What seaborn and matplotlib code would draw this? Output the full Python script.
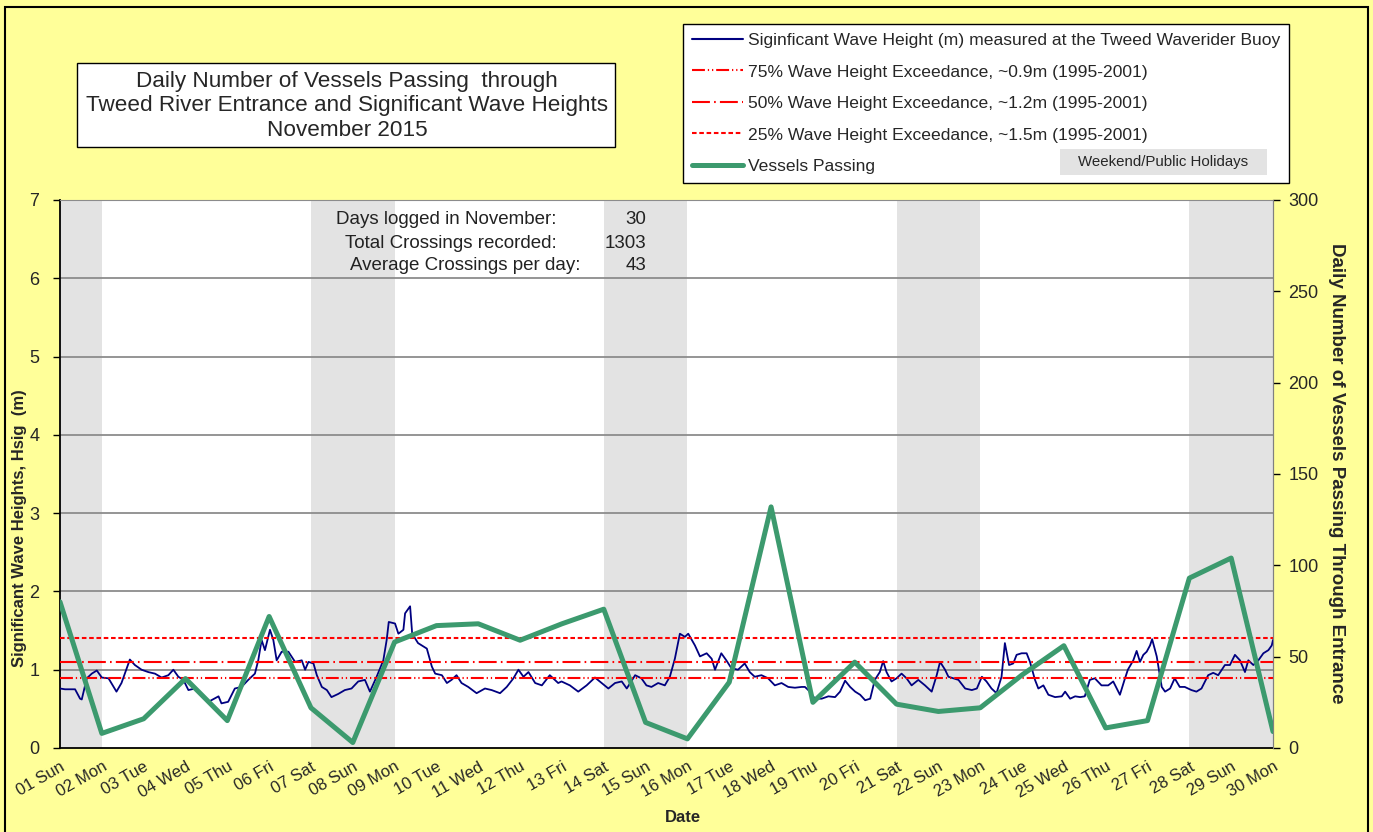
import numpy as np
import pandas as pd
import matplotlib
matplotlib.use("Agg")
import matplotlib.pyplot as plt
from matplotlib.lines import Line2D
from matplotlib.patches import Rectangle
import seaborn as sns

# ---------------- data ----------------
day_labels = ["01 Sun", "02 Mon", "03 Tue", "04 Wed", "05 Thu", "06 Fri", "07 Sat",
              "08 Sun", "09 Mon", "10 Tue", "11 Wed", "12 Thu", "13 Fri", "14 Sat",
              "15 Sun", "16 Mon", "17 Tue", "18 Wed", "19 Thu", "20 Fri", "21 Sat",
              "22 Sun", "23 Mon", "24 Tue", "25 Wed", "26 Thu", "27 Fri", "28 Sat",
              "29 Sun", "30 Mon"]
vessels = [80, 8, 16, 38, 15, 72, 22, 3, 58, 67, 68, 59, 68, 76, 14, 5, 36, 132,
           25, 47, 24, 20, 22, 40, 56, 11, 15, 93, 104, 9]

# wave record: time in days since 01 Nov 00:00, Hsig in m
wave_day = [0.00, 0.12, 0.36, 0.48, 0.52, 0.64, 0.76, 0.88, 1.00, 1.16, 1.35, 1.47,
            1.67, 1.79, 1.95, 2.11, 2.27, 2.43, 2.59, 2.71, 2.83, 2.95, 3.07, 3.23,
            3.39, 3.55, 3.79, 3.86, 4.02, 4.18, 4.34, 4.50, 4.66, 4.74, 4.82, 4.90,
            5.02, 5.10, 5.18, 5.30, 5.46, 5.62, 5.78, 5.86, 5.94, 6.06,
            6.14, 6.26, 6.38, 6.49, 6.65, 6.81, 6.97, 7.13, 7.29, 7.41, 7.57, 7.73,
            7.81, 7.86, 8.01, 8.09, 8.21, 8.25, 8.37, 8.42, 8.56, 8.77, 8.89, 8.97,
            9.13, 9.25, 9.36, 9.48, 9.60, 9.76, 9.96, 10.16, 10.32, 10.52, 10.68,
            10.84, 10.96, 11.08, 11.20, 11.36, 11.52, 11.71, 11.91,
            11.99, 12.19, 12.39, 12.59, 12.79, 12.95, 13.11, 13.27, 13.43, 13.55,
            13.75, 13.90, 14.02, 14.14, 14.30, 14.46, 14.58, 14.70, 14.82, 14.94,
            15.02, 15.18, 15.30, 15.46, 15.58, 15.66, 15.81, 15.93, 16.05, 16.21,
            16.37, 16.49, 16.61, 16.77, 16.93, 17.09, 17.25, 17.41, 17.57, 17.73,
            17.81, 17.89, 18.05, 18.21, 18.37, 18.53, 18.65, 18.77, 18.89, 19.01,
            19.13, 19.25, 19.37, 19.48, 19.60, 19.68, 19.76, 19.88, 20.00, 20.12,
            20.24, 20.36, 20.52, 20.68, 20.84, 20.96, 21.04, 21.16, 21.24, 21.36,
            21.48, 21.64, 21.80, 21.92, 22.04, 22.15, 22.27, 22.39, 22.51, 22.59,
            22.69, 22.79, 22.87, 22.99, 23.11, 23.19, 23.31, 23.39, 23.51, 23.63,
            23.79, 23.95, 24.03, 24.15, 24.27, 24.39, 24.50, 24.62, 24.74, 24.90,
            25.06, 25.18, 25.34, 25.45, 25.53, 25.66, 25.74, 25.82, 25.90, 25.98,
            26.06, 26.11, 26.22, 26.34, 26.42, 26.54, 26.65, 26.77, 26.89, 27.05,
            27.17, 27.29, 27.45, 27.57, 27.69, 27.85, 27.97, 28.09, 28.21, 28.33,
            28.41, 28.53, 28.65, 28.77, 28.89, 28.97, 29.00]
wave_h = [0.76, 0.75, 0.75, 0.63, 0.62, 0.89, 0.95, 0.99, 0.90, 0.89, 0.72, 0.83,
          1.13, 1.06, 1.00, 0.97, 0.95, 0.90, 0.93, 1.00, 0.91, 0.87, 0.74, 0.76,
          0.66, 0.59, 0.66, 0.57, 0.59, 0.76, 0.78, 0.87, 0.95, 1.12, 1.38, 1.25,
          1.51, 1.38, 1.12, 1.23, 1.23, 1.10, 1.12, 1.00, 1.10, 1.08,
          0.93, 0.78, 0.74, 0.65, 0.69, 0.74, 0.76, 0.85, 0.87, 0.72, 0.91, 1.12,
          1.38, 1.61, 1.59, 1.46, 1.51, 1.72, 1.81, 1.46, 1.34, 1.27, 1.04, 0.95,
          0.93, 0.83, 0.87, 0.93, 0.83, 0.78, 0.70, 0.76, 0.74, 0.70, 0.78,
          0.89, 1.00, 0.91, 0.97, 0.83, 0.80, 0.93, 0.83,
          0.85, 0.80, 0.72, 0.80, 0.90, 0.83, 0.76, 0.83, 0.85, 0.76,
          0.93, 0.89, 0.80, 0.78, 0.83, 0.80, 0.91, 1.14, 1.46, 1.42,
          1.46, 1.31, 1.17, 1.21, 1.14, 1.00, 1.21, 1.12, 1.02, 1.00,
          1.08, 0.97, 0.91, 0.93, 0.89, 0.80, 0.83, 0.78, 0.77, 0.78,
          0.78, 0.74, 0.63, 0.63, 0.66, 0.65, 0.72, 0.86, 0.78, 0.72,
          0.68, 0.61, 0.63, 0.87, 0.97, 1.11, 0.97, 0.85, 0.89, 0.95,
          0.89, 0.80, 0.87, 0.80, 0.72, 0.93, 1.10, 1.00, 0.91, 0.89,
          0.87, 0.76, 0.74, 0.76, 0.91, 0.85, 0.76, 0.70, 0.91, 1.34,
          1.06, 1.08, 1.19, 1.21, 1.21, 1.10, 0.87, 0.76, 0.80, 0.68,
          0.65, 0.66, 0.72, 0.63, 0.66, 0.65, 0.66, 0.87, 0.89, 0.80,
          0.80, 0.85, 0.68, 0.87, 1.00, 1.12, 1.24, 1.10, 1.19, 1.23,
          1.31, 1.39, 1.17, 0.78, 0.72, 0.76, 0.89, 0.78, 0.78, 0.74,
          0.72, 0.76, 0.93, 0.96, 0.93, 1.06, 1.06, 1.19, 1.12, 0.97,
          1.12, 1.06, 1.12, 1.21, 1.25, 1.31, 1.38]

exceed_levels = [0.9, 1.1, 1.4]
exceed_labels = ["75% Wave Height Exceedance, ~0.9m (1995-2001)",
                 "50% Wave Height Exceedance, ~1.2m (1995-2001)",
                 "25% Wave Height Exceedance, ~1.5m (1995-2001)"]
weekend_start = [0, 6, 13, 20, 27]
weekend_end = [1, 8, 15, 22, 29]

title_lines = ["Daily Number of Vessels Passing  through",
               "Tweed River Entrance and Significant Wave Heights",
               "November 2015"]
stat_names = ["Days logged in November:", "Total Crossings recorded:",
              "Average Crossings per day:"]
stat_values = ["30", "1303", "43"]

# ---------------- style ----------------
sns.set_style("white")
plt.rcParams["font.family"] = ["Liberation Sans", "DejaVu Sans"]

W, H = 1373, 832
fig = plt.figure(figsize=(W / 100, H / 100), dpi=100, facecolor="#FFFF99")

def fx(px):
    return px / W

def fy(py):
    return 1 - py / H

# outer border
fig.patches.append(Rectangle((fx(5), fy(838)), fx(1368) - fx(5), fy(7) - fy(838),
                             transform=fig.transFigure, fill=False, ec="black",
                             lw=1.5, zorder=0))

L, R, T, B = 60, 1273, 200, 748
ax = fig.add_axes([fx(L), fy(B), fx(R) - fx(L), fy(T) - fy(B)])
ax.set_facecolor("white")

day_idx = list(range(len(day_labels)))

for s, e in zip(weekend_start, weekend_end):
    ax.axvspan(s, e, color="#E3E3E3", lw=0, zorder=0)

ax.set_xlim(0, len(day_labels) - 1)
ax.set_ylim(0, 7)
ax.set_yticks(range(0, 8))
for v in range(1, 8):
    ax.axhline(v, color="#8C8C8C", lw=1.3, zorder=1)

sns.lineplot(x=wave_day, y=wave_h, ax=ax, color="#000080", lw=1.3,
             estimator=None, sort=False, zorder=3)

dash_styles = [(6.2, 1.4, 0.6, 1.4, 0.6, 1.4), (8.6, 2.0, 0.8, 2.0), (2.2, 1.3)]
for lev, ds in zip(exceed_levels, dash_styles):
    ln = ax.axhline(lev, color="#FF0000", lw=1.5, zorder=4)
    ln.set_dashes(ds)

ax.set_xticks(day_idx)
ax.set_xticklabels(day_labels, rotation=30, ha="right", rotation_mode="anchor",
                   fontsize=12)
ax.tick_params(axis="x", length=5, width=1, color="black", pad=3, direction="out")
ax.tick_params(axis="y", length=5, width=1, color="black", labelsize=13, pad=10,
               direction="out", left=True)
ax.set_xlabel("")
ax.set_ylabel("")
for sp in ["left", "bottom"]:
    ax.spines[sp].set_color("black")
    ax.spines[sp].set_linewidth(1.3)
ax.spines["top"].set_color("#8C8C8C")
ax.spines["right"].set_color("#8C8C8C")

ax2 = ax.twinx()
sns.lineplot(x=day_idx, y=vessels, ax=ax2, color="#3C9A6E", lw=3.6,
             estimator=None, sort=False, zorder=5)
ax2.set_ylim(0, 300)
ax2.set_yticks(range(0, 301, 50))
ax2.tick_params(axis="y", length=5, width=1, color="black", labelsize=13, pad=6,
                direction="out", right=True)
ax2.set_ylabel("")
ax2.set_xlabel("")
ax2.spines["right"].set_color("#808080")
for sp in ["left", "bottom", "top"]:
    ax2.spines[sp].set_visible(False)

# axis titles
fig.text(fx(20), fy(528), "Significant Wave Heights, Hsig  (m)", rotation=90,
         ha="center", va="center", fontsize=12, fontweight="bold")
fig.text(fx(1336), fy(473), "Daily Number of Vessels Passing Through Entrance",
         rotation=270, ha="center", va="center", fontsize=13.5, fontweight="bold")
fig.text(fx(683), fy(818), "Date", ha="center", va="center", fontsize=12,
         fontweight="bold")

# title box
fig.patches.append(Rectangle((fx(77), fy(147)), fx(615) - fx(77), fy(63) - fy(147),
                             transform=fig.transFigure, fc="white", ec="black",
                             lw=1.0, zorder=1))
fig.text(fx(347), fy(106), "\n".join(title_lines), ha="center", va="center",
         fontsize=16.2, linespacing=1.24, zorder=3)

# stats
stat_y = [220, 243, 265]
stat_right = [557, 557, 581]
for nm, val, yy, xr in zip(stat_names, stat_values, stat_y, stat_right):
    fig.text(fx(xr), fy(yy), nm, ha="right", va="center", fontsize=13.5,
             color="#222222")
    fig.text(fx(646), fy(yy), val, ha="right", va="center", fontsize=13.5,
             color="#222222")

# legend
handles = [Line2D([], [], color="#000080", lw=1.5)]
for ds in dash_styles:
    h = Line2D([], [], color="#FF0000", lw=1.5)
    h.set_dashes(ds)
    handles.append(h)
handles.append(Line2D([], [], color="#3C9A6E", lw=3.6))
labels = ["Siginficant Wave Height (m) measured at the Tweed Waverider Buoy"] + \
    exceed_labels + ["Vessels Passing"]
leg = ax2.legend(handles, labels, loc="upper left",
                 bbox_to_anchor=(fx(683), fy(24)), bbox_transform=fig.transFigure,
                 fontsize=12.6, frameon=True, fancybox=False, framealpha=1,
                 edgecolor="black", handlelength=2.9, handletextpad=0.3,
                 labelspacing=0.93, borderpad=0.5, borderaxespad=0)
leg.get_frame().set_linewidth(1.0)

fig.patches.append(Rectangle((fx(1060), fy(175)), fx(1267) - fx(1060),
                             fy(149) - fy(175), transform=fig.transFigure,
                             fc="#E3E3E3", ec="none", zorder=2))
fig.text(fx(1163), fy(162), "Weekend/Public Holidays", ha="center", va="center",
         fontsize=10.8, zorder=3)

fig.savefig("out.png", dpi=100, facecolor=fig.get_facecolor())
